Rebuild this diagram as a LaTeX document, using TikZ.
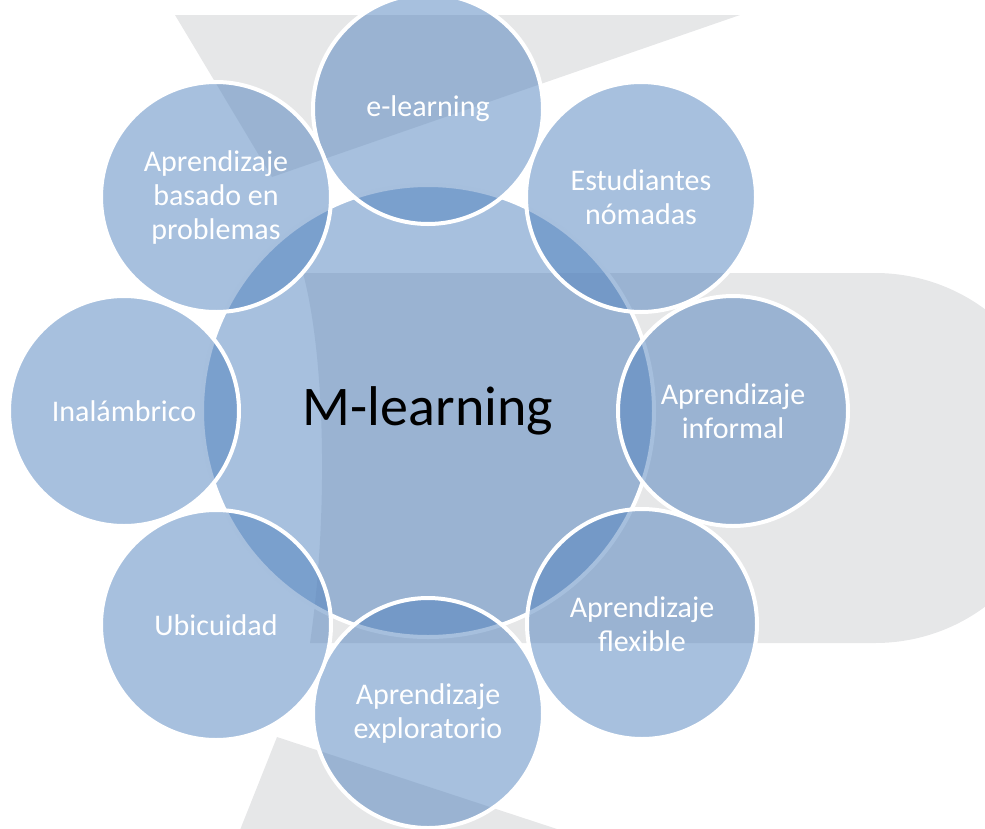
\documentclass[tikz,border=0pt]{standalone}
\usepackage{fontspec}
\setmainfont{Carlito}
\definecolor{bubble}{RGB}{79,129,189}
\definecolor{paleback}{RGB}{230,231,232}

\begin{document}
\begin{tikzpicture}[x=1pt, y=-1pt,
  ring/.style = {circle, draw=white, line width=4pt, fill=bubble, fill opacity=0.5, text opacity=1, inner sep=0pt, minimum size=230pt, align=center, text=white, font=\fontsize{30}{34}\selectfont},
  hub/.style = {ring, minimum size=452pt, text=black, font=\fontsize{56}{62}\selectfont}]
  \useasboundingbox (0,0) rectangle (985,828);
  \clip (0,0) rectangle (985,828);
  % grey shapes behind the circles
  \fill[paleback] (175,15) -- (740,15) -- (272,177) -- cycle;
  \fill[paleback] (303,273) -- (875,273) arc[start angle=-90, end angle=90, radius=185] -- (310,643) .. controls (328,520) and (326,360) .. (303,273);
  \fill[paleback] (277,737) -- (560,830) -- (240,830) -- cycle;
  \node[hub] (ml) at (428,411) {M-learning};
  \node[ring] (el) at (428,109) {e-learning};
  \node[ring] (en) at (641,197) {Estudiantes\\nómadas};
  \node[ring] (ai) at (733,411) {Aprendizaje\\informal};
  \node[ring] (af) at (642,624) {Aprendizaje\\flexible};
  \node[ring] (ae) at (428,713) {Aprendizaje\\exploratorio};
  \node[ring] (ub) at (216,625) {Ubicuidad};
  \node[ring] (in) at (124,411) {Inalámbrico};
  \node[ring] (ab) at (216,197) {Aprendizaje\\basado en\\problemas};
\end{tikzpicture}
\end{document}
